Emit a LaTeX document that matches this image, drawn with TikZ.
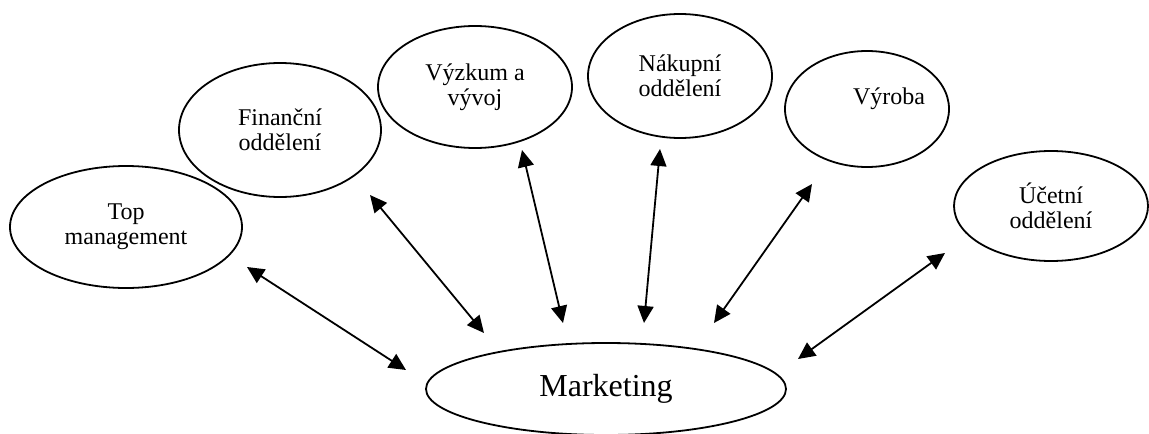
\documentclass[tikz,border=0pt]{standalone}
\usepackage{fontspec}
\setmainfont{Liberation Serif}
\usetikzlibrary{arrows.meta,shapes.geometric}

\begin{document}
\begin{tikzpicture}[x=0.5pt,y=-0.5pt,>={Triangle[length=8.5pt,width=8pt]},
  dept/.style={ellipse,draw,line width=0.9pt,inner sep=0pt,align=center,
    font=\fontsize{12}{12.5}\selectfont},
  link/.style={<->,line width=0.9pt}]
\useasboundingbox (0,0) rectangle (1149,433);
\node[dept,minimum width=116pt,minimum height=61pt] (top) at (126,227) {Top\\management};
\node[dept,minimum width=101pt,minimum height=67pt] (fin) at (280,130) {Finanční\\oddělení};
\node[dept,minimum width=97pt,minimum height=61pt] (vyz) at (475,87) {Výzkum a\\vývoj};
\node[dept,minimum width=92pt,minimum height=62pt] (nak) at (680,76) {Nákupní\\oddělení};
\node[dept,minimum width=79pt,minimum height=58pt] (vyr) at (867,109) {\hspace*{22pt}Výroba\\\mbox{}};
\node[dept,minimum width=97pt,minimum height=55pt] (uce) at (1051,206) {Účetní\\oddělení};
\node[dept,minimum width=180pt,minimum height=46pt,font=\fontsize{16}{18}\selectfont] (mkt) at (606,389) {Marketing};
\coordinate (top-a) at (247,267); \coordinate (top-b) at (406,370);
\coordinate (fin-a) at (370,195); \coordinate (fin-b) at (484,333);
\coordinate (vyz-a) at (522,150); \coordinate (vyz-b) at (563,323);
\coordinate (nak-a) at (660,149); \coordinate (nak-b) at (644,323);
\coordinate (vyr-a) at (812,184); \coordinate (vyr-b) at (714,323);
\coordinate (uce-a) at (945,253); \coordinate (uce-b) at (798,359);
\draw[link] (top-a) -- (top-b);
\draw[link] (fin-a) -- (fin-b);
\draw[link] (vyz-a) -- (vyz-b);
\draw[link] (nak-a) -- (nak-b);
\draw[link] (vyr-a) -- (vyr-b);
\draw[link] (uce-a) -- (uce-b);
\end{tikzpicture}
\end{document}
